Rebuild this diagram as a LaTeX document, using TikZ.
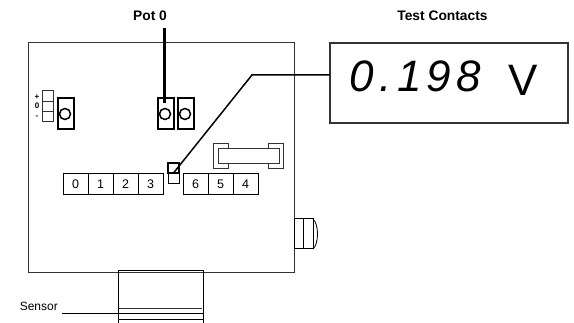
\documentclass[tikz,border=0pt]{standalone}
\usepackage{fontspec}
\setmainfont{Liberation Sans}
\usetikzlibrary{positioning}
\usetikzlibrary{calc}
\definecolor{board}{rgb}{0.2,0.2,0.2}
\begin{document}
\begin{tikzpicture}
    [x=1pt, y=-1pt,
    outline/.style={draw, line width=1pt, inner sep=0pt, outer sep=0pt},
    cell/.style={outline, minimum width=25pt, minimum height=21pt, font=\fontsize{12.5}{12.5}\selectfont},
    pot/.style={outline, line width=2pt, minimum width=16pt, minimum height=31pt},
    wiper/.style={circle, draw, line width=1.5pt, minimum size=11pt, inner sep=0pt, outer sep=0pt},
    toggle/.style={outline, draw=board, minimum width=11pt, minimum height=10.3pt},
    tab/.style={outline, draw=board, minimum width=15pt, minimum height=25pt},
    caption/.style={font=\fontsize{13.8}{14}\selectfont\bfseries, inner sep=0pt},
    sign/.style={font=\fontsize{8}{8}\selectfont\bfseries, inner sep=0pt}]
     \useasboundingbox (0,0) rectangle (574,323);
     \node[outline, draw=board, minimum width=266pt, minimum height=230pt] (board) at (161, 158) {};
     \node[caption] (pot0label) at (150, 16)    {Pot 0};
     \node[caption] (testlabel) at (442.5, 16)  {Test Contacts};
     % display
     \node[outline, draw=board, line width=1.4pt, minimum width=238pt, minimum height=80pt] (display) at (449, 83) {};
     \node[inner sep=0pt, font=\fontsize{44}{44}\selectfont\itshape\addfontfeature{LetterSpace=12}] (reading) at (415.5, 76.5) {0.198};
     \node[inner sep=0pt, font=\fontsize{44}{44}\selectfont] (unit) at (523, 80) {V};
     % pots
     \node[pot] (pot2) at (65.5, 113.5)  {};
     \node[pot] (pot0) at (166, 113.5)   {};
     \node[pot] (pot1) at (185.5, 113.5) {};
     \node[wiper] (w2) at (65, 114)  {};
     \node[wiper] (w0) at (165, 114) {};
     \node[wiper] (w1) at (185, 114) {};
     % switch
     \node[toggle] (sw1) at (47.5, 96)  {};
     \node[toggle] (sw2) at (47.5, 106.3) {};
     \node[toggle] (sw3) at (47.5, 116.6) {};
     \node[sign] (plus)  at (37, 97)  {+};
     \node[sign] (zero)  at (37, 106) {0};
     \node[sign] (minus) at (37, 117) {-};
     % numbered row
     \node[cell] (c0) at (75.5, 184.5)  {0};
     \node[cell] (c1) at (100.5, 184.5) {1};
     \node[cell] (c2) at (125.5, 184.5) {2};
     \node[cell] (c3) at (150.5, 184.5) {3};
     \node[cell] (c6) at (195.5, 184.5) {6};
     \node[cell] (c5) at (220.5, 184.5) {5};
     \node[cell] (c4) at (245.5, 184.5) {4};
     % connector
     \node[tab] (tabl) at (220.5, 156.5) {};
     \node[tab] (tabr) at (275.5, 156.5) {};
     \node[outline, draw=board, fill=white, minimum width=61pt, minimum height=15pt] (bar) at (248.5, 156.5) {};
     % test contact
     \node[outline, minimum width=11pt, minimum height=11pt] (tc2) at (173.5, 178.5) {};
     \node[outline, line width=1.6pt, minimum width=11pt, minimum height=10pt] (tc1) at (173.5, 168) {};
     \coordinate (wire) at (330, 75);
     \coordinate (bend) at (252, 75);
     \draw[line width=1.5pt] (wire) -- (bend) -- (tc1.south);
     \coordinate (pot0top) at (164, 28);
     \coordinate (pot0end) at (164, 103);
     \draw[line width=3pt] (pot0top) -- (pot0end);
     % knob
     \node[outline, minimum width=9.5pt, minimum height=30pt] (k1) at (298.75, 234) {};
     \node[outline, minimum width=9.5pt, minimum height=30pt] (k2) at (308.25, 234) {};
     \draw[line width=0.8pt] (k2.north east) .. controls (319, 224) and (319, 244) .. (k2.south east);
     % sensor
     \draw[line width=0.9pt] (118, 323) -- (118, 270) -- (203, 270) -- (203, 323);
     \node[anchor=east, inner sep=0pt, font=\fontsize{12}{12}\selectfont] (sensor) at (58, 306) {Sensor};
     \coordinate (lead) at (62, 314);
     \coordinate (leadend) at (203, 314);
     \draw[line width=1pt] (lead) -- (leadend);
     \coordinate (s1) at (118, 309);
     \coordinate (s2) at (202, 309);
     \coordinate (s3) at (118, 319.5);
     \coordinate (s4) at (203, 319.5);
     \draw[draw=board, line width=1pt] (s1) -- (s2);
     \draw[line width=0.8pt] (s3) -- (s4);
\end{tikzpicture}
\end{document}
